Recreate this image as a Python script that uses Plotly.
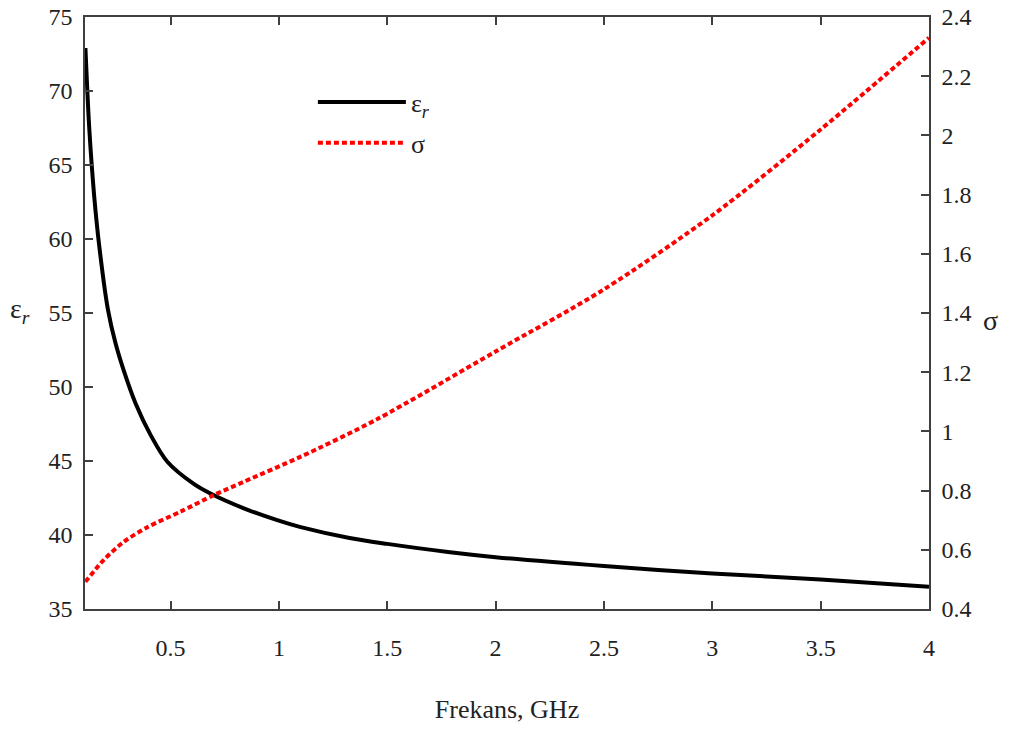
import plotly.graph_objects as go

# ---- data ----
freq_eps = [0.107, 0.125, 0.148, 0.171, 0.21, 0.245, 0.284, 0.338, 0.408, 0.485, 0.607,
            0.684, 0.838, 0.992, 1.096, 1.326, 1.5, 1.78, 2.0, 2.5, 3.0, 3.5, 4.0]
eps_r = [72.9, 67.4, 62.8, 59.5, 55.3, 53.0, 51.1, 48.9, 46.75, 44.95, 43.45,
         42.8, 41.8, 41.0, 40.55, 39.8, 39.4, 38.85, 38.5, 37.9, 37.4, 37.0, 36.5]

freq_sig = [0.107, 0.192, 0.284, 0.392, 0.546, 0.7, 0.838, 1.096, 1.45, 2.0, 2.5, 3.0, 3.5, 4.0]
sigma = [0.492, 0.566, 0.627, 0.676, 0.729, 0.785, 0.83, 0.913, 1.04, 1.27, 1.48, 1.73, 2.02, 2.33]

x_ticks = [0.5, 1, 1.5, 2, 2.5, 3, 3.5, 4]
eps_ticks = [35, 40, 45, 50, 55, 60, 65, 70, 75]
sig_ticks = [0.4, 0.6, 0.8, 1.0, 1.2, 1.4, 1.6, 1.8, 2.0, 2.2, 2.4]

FONT = "Liberation Serif"
AX = "#404040"
TXT = "#222"

fig = go.Figure()
fig.add_trace(go.Scatter(x=freq_eps, y=eps_r, mode="lines", name="ε<sub><i>r</i></sub>",
                         legendgroup="eps",
                         line=dict(color="black", width=4, shape="spline", smoothing=0.9)))
fig.add_trace(go.Scatter(x=freq_sig, y=sigma, mode="lines", name="σ", yaxis="y2",
                         legendgroup="sig",
                         line=dict(color="#ff0000", width=4, dash="5px,3px",
                                   shape="spline", smoothing=0.8)))

axis_common = dict(ticks="inside", ticklen=8, tickcolor=AX, tickwidth=1.5,
                   showline=True, linecolor=AX, linewidth=1.5, showgrid=False,
                   zeroline=False, automargin=False)

fig.update_layout(
    width=1009, height=731,
    margin=dict(l=85, r=80, t=17, b=122),
    plot_bgcolor="white", paper_bgcolor="white",
    font=dict(family=FONT, size=24, color=TXT),
    showlegend=True,
    legend=dict(x=0.27, y=0.896, xanchor="left", yanchor="top",
                bgcolor="rgba(0,0,0,0)", itemwidth=88,
                font=dict(family=FONT, size=26, color=TXT),
                traceorder="grouped", tracegroupgap=4),
    xaxis=dict(range=[0.105, 4], tickvals=x_ticks, mirror="ticks",
               ticklabelstandoff=16,
               title=dict(text="Frekans, GHz", font=dict(size=26), standoff=40),
               **axis_common),
    yaxis=dict(range=[35, 75], tickvals=eps_ticks, ticklabelstandoff=6,
               **axis_common),
    yaxis2=dict(range=[0.4, 2.4], tickvals=sig_ticks, overlaying="y", side="right",
                ticklabelstandoff=6, **axis_common),
    annotations=[
        dict(text="ε<sub><i>r</i></sub>", xref="paper", yref="paper", x=-0.077, y=0.505,
             xanchor="center", yanchor="middle",
             showarrow=False, font=dict(family=FONT, size=28, color=TXT)),
        dict(text="σ", xref="paper", yref="paper", x=1.073, y=0.487,
             xanchor="center", yanchor="middle",
             showarrow=False, font=dict(family=FONT, size=28, color=TXT)),
    ],
)

fig.write_html("out.html")
